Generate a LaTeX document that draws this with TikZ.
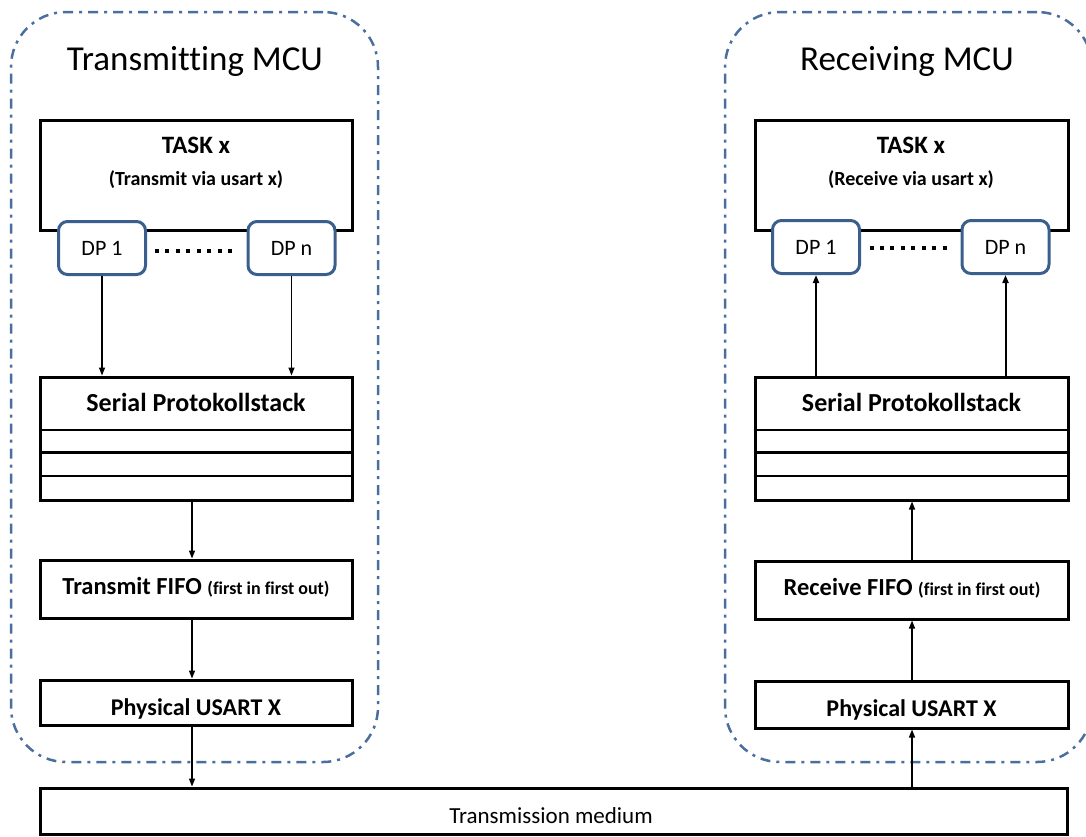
\documentclass[tikz,border=0pt]{standalone}
\usepackage{fontspec}
\setmainfont[Ligatures=NoCommon]{Carlito}
\usetikzlibrary{arrows.meta,calc}
\definecolor{mcublue}{HTML}{4A6E9E}
\definecolor{dpblue}{HTML}{3A5F8C}
\newcommand\fifonote{\fontsize{18}{22}\selectfont\bfseries}
\begin{document}
\begin{tikzpicture}[x=1pt,y=-1pt,
  mcu/.style={draw=mcublue, line width=2.5pt, dash pattern=on 10pt off 6pt on 3pt off 6pt,
    rounded corners=55pt, minimum width=367pt, minimum height=750pt, inner sep=0pt},
  blk/.style={draw, line width=3pt, fill=white, inner sep=0pt, minimum width=312pt},
  dpbox/.style={draw=dpblue, line width=3pt, rounded corners=9pt, fill=white,
    minimum width=87pt, minimum height=53pt, inner sep=0pt, font=\fontsize{22}{26}\selectfont},
  flow/.style={-{Triangle[length=8pt,width=6pt]}, line width=1.4pt},
  upflow/.style={flow, line width=2pt},
  dotrow/.style={line width=4pt, dash pattern=on 4pt off 6.43pt},
  layer/.style={line width=2.2pt},
  title/.style={anchor=base, font=\fontsize{35}{42}\selectfont},
  taskname/.style={anchor=base, font=\bfseries\fontsize{25}{30}\selectfont},
  tasksub/.style={anchor=base, font=\bfseries\fontsize{20}{24}\selectfont},
  label/.style={anchor=base, font=\bfseries\fontsize{24.5}{29}\selectfont}
]
\useasboundingbox (0,0) rectangle (1086,836);
\clip (0,0) rectangle (1086,836);

% ---------- the two controllers ----------
\node[mcu] (txmcu) at (194.5,387) {};
\node[mcu] (rxmcu) at (908.5,387) {};
\node[title] (txtitle) at (195,70) {Transmitting MCU};
\node[title] (rxtitle) at (907,70) {Receiving MCU};

% ---------- transmitting side ----------
\node[blk, minimum height=110pt] (txtask) at (196,175) {};
\node[taskname] (txtaskname) at (196,153) {TASK x};
\node[tasksub] (txtasksub) at (196,185) {(Transmit via usart x)};
\node[dpbox] (txdp1) at (102,248) {DP 1};
\node[dpbox] (txdpn) at (291.5,248) {DP n};
\draw[dotrow] ([xshift=8pt,yshift=-3pt]txdp1.east) -- ([xshift=-14.5pt,yshift=-3pt]txdpn.west);

\node[blk, minimum height=123pt] (txstack) at (196,438.5) {};
\node[label, font=\bfseries\fontsize{26}{31}\selectfont] (txstackname) at (196,411) {Serial Protokollstack};
\draw[layer] ([yshift=-54.5pt]txstack.north west) -- ([yshift=-54.5pt]txstack.north east);
\draw[layer, line width=3pt] ([yshift=-76.5pt]txstack.north west) -- ([yshift=-76.5pt]txstack.north east);
\draw[layer] ([yshift=-100.5pt]txstack.north west) -- ([yshift=-100.5pt]txstack.north east);

\node[blk, minimum height=58pt] (txfifo) at (196,589) {};
\node[label] (txfifoname) at (196,594) {Transmit FIFO {\fifonote(first in first out)}};
\node[blk, minimum height=45pt] (txphy) at (196,702.5) {};
\node[label, font=\bfseries\fontsize{24}{29}\selectfont] (txphyname) at (196,715) {Physical USART X};

\coordinate (txaxis) at (192,0);
\draw[flow] (txdp1.south) -- (txdp1.south |- txstack.north);
\draw[flow] (txdpn.south) -- (txdpn.south |- txstack.north);
\draw[flow] (txstack.south -| txaxis) -- (txfifo.north -| txaxis);
\draw[flow] (txfifo.south -| txaxis) -- (txphy.north -| txaxis);

% ---------- receiving side ----------
\node[blk, minimum width=313pt, minimum height=110pt] (rxtask) at (911.5,175) {};
\node[taskname] (rxtaskname) at (911,153) {TASK x};
\node[tasksub] (rxtasksub) at (911,185) {(Receive via usart x)};
\node[dpbox] (rxdp1) at (816,247) {DP 1};
\node[dpbox] (rxdpn) at (1005.5,247) {DP n};
\draw[dotrow] ([xshift=8.5pt,yshift=-1pt]rxdp1.east) -- ([xshift=-13pt,yshift=-1pt]rxdpn.west);

\node[blk, minimum width=313pt, minimum height=123pt] (rxstack) at (911.5,438.5) {};
\node[label, font=\bfseries\fontsize{26}{31}\selectfont] (rxstackname) at (911.5,411) {Serial Protokollstack};
\draw[layer] ([yshift=-54.5pt]rxstack.north west) -- ([yshift=-54.5pt]rxstack.north east);
\draw[layer, line width=3pt] ([yshift=-76.5pt]rxstack.north west) -- ([yshift=-76.5pt]rxstack.north east);
\draw[layer] ([yshift=-100.5pt]rxstack.north west) -- ([yshift=-100.5pt]rxstack.north east);

\node[blk, minimum width=313pt, minimum height=58pt] (rxfifo) at (911.5,590) {};
\node[label] (rxfifoname) at (912,595) {Receive FIFO {\fifonote(first in first out)}};
\node[blk, minimum width=313pt, minimum height=47pt] (rxphy) at (911.5,704.5) {};
\node[label, font=\bfseries\fontsize{24}{29}\selectfont] (rxphyname) at (911.5,716) {Physical USART X};

\coordinate (rxaxis) at (912,0);
\draw[upflow] (rxdp1.south |- rxstack.north) -- (rxdp1.south);
\draw[upflow] (rxdpn.south |- rxstack.north) -- (rxdpn.south);
\draw[flow] (rxfifo.north -| rxaxis) -- (rxstack.south -| rxaxis);
\draw[flow] (rxphy.north -| rxaxis) -- (rxfifo.south -| rxaxis);

% ---------- shared medium ----------
\node[blk, minimum width=1027pt, minimum height=46pt] (medium) at (554,811) {};
\node[anchor=base, font=\fontsize{23}{28}\selectfont] (mediumname) at (551,823) {Transmission medium};
\draw[flow] (txphy.south -| txaxis) -- (medium.north -| txaxis);
\draw[flow] (medium.north -| rxaxis) -- (rxphy.south -| rxaxis);
\end{tikzpicture}
\end{document}
